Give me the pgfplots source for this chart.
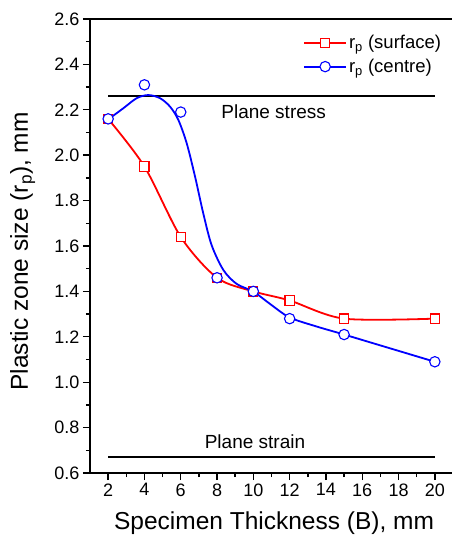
\documentclass[border=0pt]{standalone}
\usepackage{pgfplots}
\pgfplotsset{compat=1.18}
\usepackage{fontspec}
\setmainfont{Liberation Sans}
\pgfplotstableread{
x y
2 2.16
4 1.95
6 1.64
8 1.46
10 1.40
12 1.36
15 1.28
20 1.28
}\surface
\pgfplotstableread{
x y
2 2.16
4 2.31
6 2.19
8 1.46
10 1.40
12 1.28
15 1.21
20 1.09
}\centre
\pgfplotstableread{
x y
2.01 2.158
2.84 2.207
3.57 2.251
4.21 2.265
4.86 2.251
5.41 2.214
5.87 2.155
6.33 2.052
6.79 1.905
7.24 1.744
7.70 1.604
8.35 1.494
9.08 1.433
10.0 1.399
11.0 1.340
12.0 1.285
13.5 1.245
15.0 1.210
17.5 1.150
20.0 1.090
}\centrecurve
\begin{document}
\begin{tikzpicture}
\begin{axis}[
  at={(0,0)}, anchor=south west,
  scale only axis, width=363pt, height=454pt,
  xmin=1, xmax=21, ymin=0.6, ymax=2.6,
  xtick={2,4,...,20}, ytick={0.6,0.8,...,2.61},
  minor x tick num=1, minor y tick num=1,
  xtick pos=left, ytick pos=left,
  tick align=outside,
  major tick length=7pt, minor tick length=4pt,
  every tick/.style={black, line width=1.4pt},
  axis line style={black, line width=2pt},
  /pgf/number format/assume math mode=true,
  tick label style={font=\fontsize{18}{20}\selectfont},
  yticklabel style={/pgf/number format/.cd, fixed, fixed zerofill, precision=1},
  every axis x label/.style={at={(axis description cs:0.507,-0.1255)}, anchor=base},
  every axis y label/.style={at={(axis description cs:-0.171,0.488)}, rotate=90, anchor=base},
  label style={font=\fontsize{24.5}{28}\selectfont},
  xlabel={Specimen Thickness (B), mm},
  ylabel={Plastic zone size (r\textsubscript{p}), mm},
  legend style={at={(rel axis cs:0.587,0.969)}, anchor=north west, draw=none, fill=none,
    font=\fontsize{18.5}{20}\selectfont, inner sep=0pt, row sep=5pt,
    cells={anchor=west}},
  legend image code/.code={\draw[mark repeat=2, mark phase=2, #1] plot coordinates {(0pt,0pt) (21pt,0pt) (42pt,0pt)};},
]
\addplot[black, line width=2pt, forget plot] coordinates {(2,2.26) (20,2.26)};
\addplot[black, line width=2pt, forget plot] coordinates {(2,0.67) (20,0.67)};
\addplot[red, line width=1.8pt, smooth, tension=0.5, mark=square*, mark size=4.6pt,
  mark options={fill=white, draw=red, line width=1.1pt}, forget plot] table[x=x,y=y] {\surface};
\addplot[blue, line width=1.8pt, smooth, tension=0.5, no marks, forget plot] table[x=x,y=y] {\centrecurve};
\addplot[blue, only marks, mark=*, mark size=5.2pt,
  mark options={fill=white, draw=blue, line width=1.1pt}, forget plot] table[x=x,y=y] {\centre};
\addlegendimage{red, line width=1.8pt, mark=square*, mark size=4.6pt, mark options={fill=white, draw=red, line width=1.1pt}}
\addlegendentry{r\textsubscript{p} (surface)}
\addlegendimage{blue, line width=1.8pt, mark=*, mark size=5.2pt, mark options={fill=white, draw=blue, line width=1.1pt}}
\addlegendentry{r\textsubscript{p} (centre)}
\node[anchor=base, font=\fontsize{19}{22}\selectfont] at (axis cs:11.12,2.163) {Plane stress};
\node[anchor=base, font=\fontsize{19}{22}\selectfont] at (axis cs:10.09,0.709) {Plane strain};
\end{axis}
\pgfresetboundingbox
\useasboundingbox (-90pt,-62pt) rectangle (361pt,473pt);
\end{tikzpicture}
\end{document}
